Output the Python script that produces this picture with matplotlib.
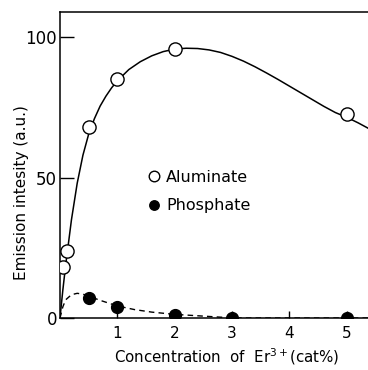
import matplotlib.pyplot as plt

# measured points
alu_x = [0.06, 0.12, 0.5, 1.0, 2.0, 5.0]
alu_y = [18, 24, 68, 85, 96, 72.5]
pho_x = [0.5, 1.0, 2.0, 3.0, 5.0]
pho_y = [7.2, 3.8, 1.0, 0.0, 0.0]

# guide curves
alu_cx = [0, 0.05, 0.1, 0.15, 0.2, 0.3, 0.4, 0.5, 0.6, 0.7, 0.8, 0.9, 1.0,
          1.2, 1.4, 1.6, 1.8, 2.0, 2.2, 2.4, 2.6, 2.8, 3.0, 3.2, 3.4, 3.6,
          3.8, 4.0, 4.2, 4.4, 4.6, 4.8, 5.0, 5.2, 5.4]
alu_cy = [0, 10, 19, 27, 35, 48, 58, 65.5, 71, 75.5, 79, 82, 84.5,
          88.5, 91.3, 93.4, 94.9, 95.8, 96.1, 96.0, 95.5, 94.6, 93.2, 91.5,
          89.5, 87.3, 85.0, 82.6, 80.2, 77.8, 75.4, 73.2, 71.5, 69.5, 67.3]
pho_cx = [0, 0.05, 0.1, 0.2, 0.3, 0.4, 0.5, 0.7, 1.0, 1.3, 1.6, 2.0,
          2.4, 2.8, 3.0, 3.2, 5.4]
pho_cy = [0, 4, 6.5, 8.3, 8.8, 8.5, 7.8, 6.3, 4.3, 3.0, 2.1, 1.3,
          0.8, 0.3, 0.1, 0, 0]

fig = plt.figure(figsize=(3.68, 3.70), dpi=100)
ax = fig.add_axes([0.163, 0.1405, 0.837, 0.827])

ax.plot(alu_cx, alu_cy, color='black', lw=1.1, zorder=2)
ax.plot(pho_cx, pho_cy, color='black', lw=1.0, ls=(0, (4, 3)), zorder=2)
ax.plot(alu_x, alu_y, 'o', ms=9.5, mfc='white', mec='black', mew=1.0,
        zorder=3, label='Aluminate')
ax.plot(pho_x, pho_y, 'o', ms=8.5, mfc='black', mec='black',
        zorder=3, label='Phosphate')

ax.set_xlim(0, 5.37)
ax.set_ylim(0, 109)
ax.set_xticks([1, 2, 3, 4, 5])
ax.set_yticks([0, 50, 100])
ax.tick_params(axis='x', direction='in', length=5, width=1, labelsize=11, pad=6)
ax.tick_params(axis='y', direction='in', length=10, width=1, labelsize=12, pad=2)
ax.spines['right'].set_visible(False)
for s in ['left', 'bottom', 'top']:
    ax.spines[s].set_linewidth(1.1)

ax.set_xlabel('Concentration  of  Er$^{3+}$(cat%)', fontsize=10.8)
ax.xaxis.set_label_coords(0.54, -0.093)
ax.set_ylabel('Emission intesity (a.u.)', fontsize=11)
ax.yaxis.set_label_coords(-0.1, 0.41)

ax.legend(loc='upper left', bbox_to_anchor=(0.265, 0.505), frameon=False,
          handlelength=0.7, handletextpad=0.45, labelspacing=0.85, fontsize=11.5,
          markerscale=0.8, borderaxespad=0)

fig.savefig('out.png', dpi=100)
